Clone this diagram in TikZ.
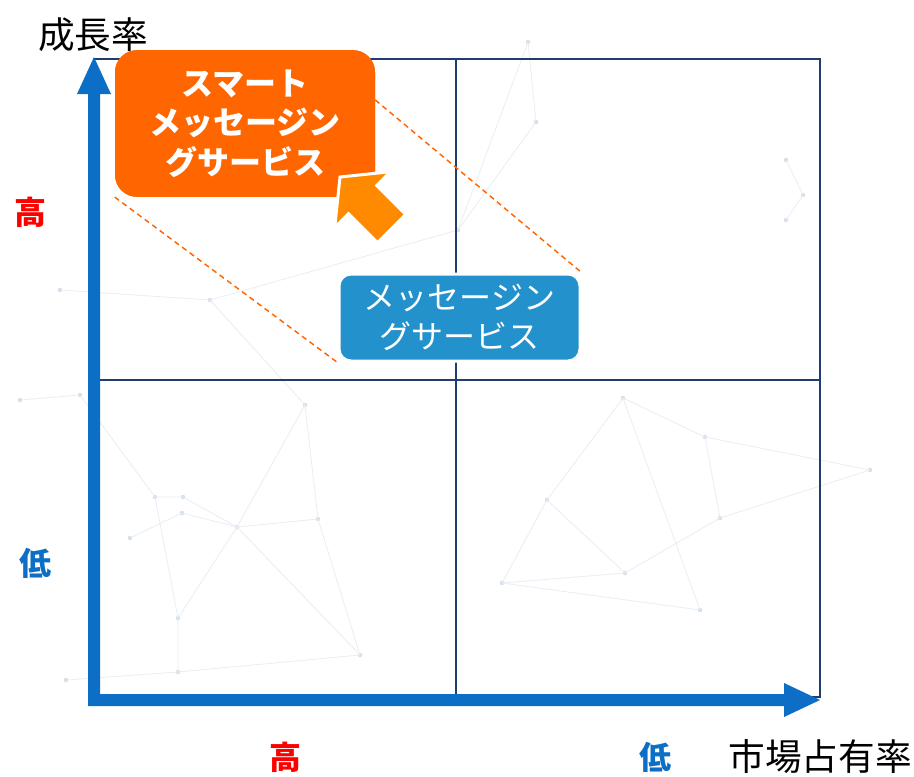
\documentclass[tikz,border=0pt]{standalone}
\usepackage{fontspec}
\setmainfont{Noto Sans CJK JP}
\usetikzlibrary{calc}
\definecolor{navy}{RGB}{31,62,110}
\definecolor{axisblue}{RGB}{12,111,197}
\definecolor{boxorange}{RGB}{255,102,0}
\definecolor{arroworange}{RGB}{255,138,0}
\definecolor{boxblue}{RGB}{35,146,204}
\definecolor{labelred}{RGB}{255,0,0}
\definecolor{netline}{RGB}{232,238,244}
\definecolor{netdot}{RGB}{210,222,234}
\begin{document}
\begin{tikzpicture}[x=0.75pt,y=-0.75pt,
  gridline/.style={draw=navy,line width=1.5pt},
  net/.style={draw=netline,line width=0.6pt},
  netpt/.style={fill=netdot},
  callout/.style={draw=boxorange,line width=1.1pt,dash pattern=on 4pt off 3pt},
  smartbox/.style={fill=boxorange,rounded corners=16.5pt,minimum width=195pt,minimum height=110pt,
    text=white,font=\fontsize{24}{29.5}\selectfont\bfseries,align=center,inner sep=0pt},
  msgbox/.style={fill=boxblue,draw=white,line width=2.25pt,rounded corners=9pt,minimum width=180.75pt,minimum height=65.25pt,
    text=white,font=\fontsize{24}{29.5}\selectfont,align=center,inner sep=0pt},
  axislabel/.style={font=\fontsize{27.5}{30}\selectfont,inner sep=0pt},
  hilabel/.style={font=\fontsize{24}{28}\selectfont\bfseries,text=labelred,inner sep=0pt},
  lolabel/.style={font=\fontsize{24}{28}\selectfont\bfseries,text=axisblue,inner sep=0pt}]
\useasboundingbox (0,0) rectangle (914,776);
\fill[white] (0,0) rectangle (914,776);
% faint background network
\foreach \a/\b in {155/497, 183/497, 182/513, 237/527, 130/538, 178/618, 178/672, 305/405, 318/519, 360/655, 547/500, 502/583, 625/573, 623/398, 705/437, 720/518, 870/470, 786/160, 803/195, 786/220, 536/122, 528/42, 20/400, 80/395, 66/680, 458/230, 700/610, 60/290, 210/300}
  \fill[netpt] (\a,\b) circle (2.2);
\draw[net] (155,497)--(183,497)--(237,527)--(318,519)--(305,405)--(237,527);
\draw[net] (155,497)--(178,618)--(178,672)--(360,655)--(318,519);
\draw[net] (130,538)--(182,513)--(237,527);
\draw[net] (178,618)--(237,527)--(360,655);
\draw[net] (547,500)--(502,583)--(625,573)--(720,518)--(705,437)--(623,398)--(547,500)--(625,573);
\draw[net] (705,437)--(870,470)--(720,518);
\draw[net] (786,160)--(803,195)--(786,220);
\draw[net] (536,122)--(528,42)--(458,230)--(536,122);
\draw[net] (20,400)--(80,395)--(155,497);
\draw[net] (66,680)--(178,672);
\draw[net] (60,290)--(210,300)--(305,405);
\draw[net] (210,300)--(458,230);
\draw[net] (623,398)--(700,610)--(502,583);
% grid
\draw[gridline] (94,59) rectangle (820,697);
\draw[gridline] (456,59) -- (456,697);
\draw[gridline] (94,380) -- (820,380);
% boxes
\node[smartbox] (smart) at (245,123.5) {スマート\\メッセージン\\グサービス};
\node[msgbox] (msg) at (459.5,317.5) {メッセージン\\グサービス};
% callout dashed lines
\draw[callout] ($(smart.north east)!0.34!(smart.south east)$) -- (msg.north east);
\draw[callout] (smart.south west) -- (msg.south west);
\node[smartbox] at (smart) {スマート\\メッセージン\\グサービス};
% orange pointer arrow
\filldraw[fill=arroworange,draw=white,line width=2.25pt,line join=miter]
  (340,177) -- (390.5,171.7) -- (376.7,185.5) -- (405.7,214.5) -- (377.5,242.7) -- (348.5,213.7) -- (334.7,227.5) -- cycle;
% axes
\fill[axisblue] (88,706) -- (88,94) -- (77,94) -- (94,57) -- (111,94) -- (100,94) -- (100,694)
  -- (784,694) -- (784,683) -- (820,700) -- (784,717) -- (784,706) -- cycle;
% labels
\node[axislabel] (ylab) at (93,35) {成長率};
\node[axislabel] (xlab) at (820,757) {市場占有率};
\node[hilabel] (yhi) at (30,212) {高};
\node[lolabel] (ylo) at (35,563) {低};
\node[hilabel] (xhi) at (285,757) {高};
\node[lolabel] (xlo) at (655,757) {低};
\end{tikzpicture}
\end{document}
